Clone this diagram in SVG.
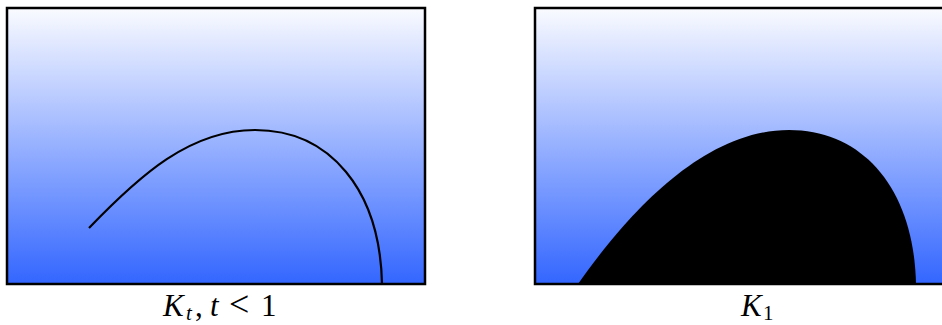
<svg xmlns="http://www.w3.org/2000/svg" width="942" height="325" viewBox="0 0 942 325">
<defs>
<linearGradient id="g" x1="0" y1="0" x2="0" y2="1">
<stop offset="0" stop-color="#fafbff"/>
<stop offset="1" stop-color="#3366ff"/>
</linearGradient>
<style>
.box{fill:url(#g);stroke:#000;stroke-width:2.5}
.lbl{font-family:"Liberation Serif","Times New Roman",serif;font-size:31px;fill:#000}
.it{font-style:italic}
.sub{font-size:21px}
</style>
</defs>
<g id="panel-left">
<rect class="box" x="7" y="8" width="418" height="276"/>
<path d="M 89 228 C 140 175, 190 130, 255 130 C 330 130, 380 190, 382 284" fill="none" stroke="#000" stroke-width="2.2"/>
<text class="lbl" y="316"><tspan class="it" x="163">K</tspan><tspan class="it sub" x="186" dy="4">t</tspan><tspan x="195" dy="-4">,</tspan><tspan class="it" x="210">t</tspan><tspan x="229" font-size="36">&lt;</tspan><tspan x="261">1</tspan></text>
</g>
<g id="panel-right">
<rect class="box" x="535" y="8" width="412" height="276"/>
<path d="M 578 284 C 623 220, 700 130, 789 130 C 864 130, 914 190, 916 284 Z" fill="#000"/>
<text class="lbl" y="316"><tspan class="it" x="741">K</tspan><tspan class="sub" x="763" dy="4">1</tspan></text>
</g>
</svg>
